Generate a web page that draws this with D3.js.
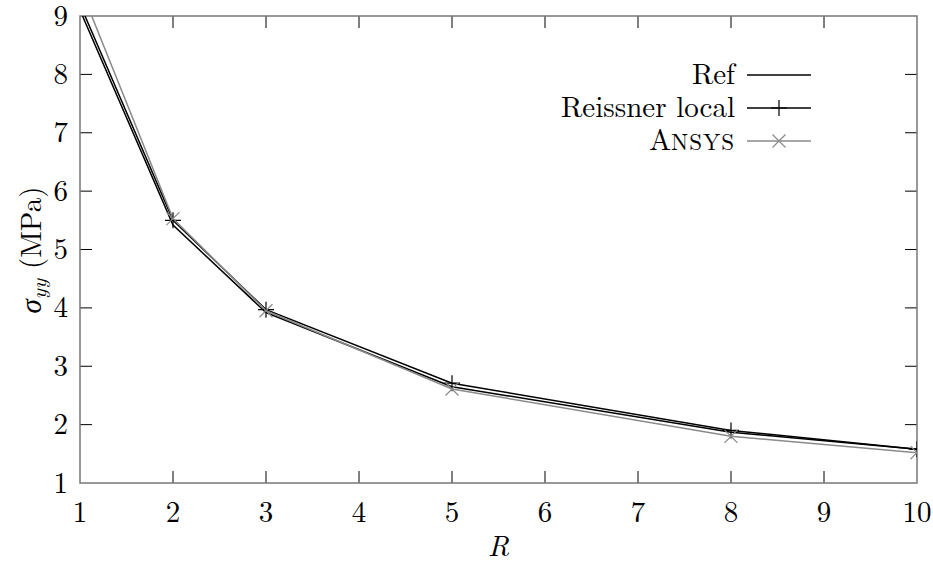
<!DOCTYPE html>
<html><head><meta charset="utf-8">
<script src="https://cdn.jsdelivr.net/npm/d3@7"></script>
<style>body{margin:0;background:#fff}svg{display:block}</style>
</head><body><svg id="c" width="933" height="563"></svg>
<script>
const xVals = [1, 2, 3, 5, 8, 10];
const refVals = [9.1, 5.42, 3.92, 2.65, 1.87, 1.58];
const reissnerVals = [9.2, 5.5, 3.97, 2.71, 1.9, 1.58];
const ansysVals = [9.5, 5.53, 3.95, 2.61, 1.8, 1.52];
const xTicks = [1,2,3,4,5,6,7,8,9,10];
const yTicks = [1,2,3,4,5,6,7,8,9];
const seriesNames = ["Ref", "Reissner local", "Ansys"];

const FONT = "Latin Modern Roman";
const FS = 29;
const svg = d3.select("#c");
const L=80, R=917, T=16, B=483;
const x = d3.scaleLinear().domain([1,10]).range([L,R]);
const y = d3.scaleLinear().domain([1,9]).range([B,T]);
const tl = 12;

svg.append("defs").append("clipPath").attr("id","clip")
  .append("rect").attr("x",L).attr("y",T).attr("width",R-L).attr("height",B-T);

const g = svg.append("g");
xTicks.forEach(t=>{
  if(t>1 && t<10){
    g.append("line").attr("x1",x(t)).attr("x2",x(t)).attr("y1",B).attr("y2",B-tl).attr("stroke","#000");
    g.append("line").attr("x1",x(t)).attr("x2",x(t)).attr("y1",T).attr("y2",T+tl).attr("stroke","#000");
  }
  g.append("text").attr("x",x(t)).attr("y",522).attr("text-anchor","middle").attr("font-size",FS).attr("font-family",FONT).text(t);
});
yTicks.forEach(t=>{
  if(t>1 && t<9){
    g.append("line").attr("x1",L).attr("x2",L+tl).attr("y1",y(t)).attr("y2",y(t)).attr("stroke","#000");
    g.append("line").attr("x1",R).attr("x2",R-tl).attr("y1",y(t)).attr("y2",y(t)).attr("stroke","#000");
  }
  g.append("text").attr("x",68).attr("y",y(t)+9.5).attr("text-anchor","end").attr("font-size",FS).attr("font-family",FONT).text(t);
});

svg.append("rect").attr("x",L).attr("y",T).attr("width",R-L).attr("height",B-T)
  .attr("fill","none").attr("stroke","#777").attr("stroke-width",1.5);

const line = d3.line().x((d,i)=>x(xVals[i])).y(d=>y(d));
const plot = svg.append("g").attr("clip-path","url(#clip)");
const series = [
  {vals: refVals, color:"#000", marker:null},
  {vals: reissnerVals, color:"#000", marker:"plus"},
  {vals: ansysVals, color:"#8a8a8a", marker:"cross"}
];
function drawMarker(sel, type, cx, cy, color){
  if(type==="plus"){
    const s=8;
    sel.append("path").attr("d",`M${cx-s},${cy}H${cx+s}M${cx},${cy-s}V${cy+s}`).attr("stroke",color).attr("stroke-width",1.2).attr("fill","none");
  } else if(type==="cross"){
    const s=6.5;
    sel.append("path").attr("d",`M${cx-s},${cy-s}L${cx+s},${cy+s}M${cx-s},${cy+s}L${cx+s},${cy-s}`).attr("stroke",color).attr("stroke-width",1.2).attr("fill","none");
  }
}
series.forEach(s=>{
  plot.append("path").attr("d",line(s.vals)).attr("fill","none").attr("stroke",s.color).attr("stroke-width",1.5);
});
series.forEach(s=>{
  if(s.marker){
    s.vals.forEach((v,i)=>{
      if(v<=9) drawMarker(plot, s.marker, x(xVals[i]), y(v), s.color);
    });
  }
});

const legY = [75, 108, 141];
series.forEach((s,i)=>{
  const t = svg.append("text").attr("x",735).attr("y",legY[i]+9).attr("text-anchor","end").attr("font-size",FS).attr("font-family",FONT);
  if(i===2){
    t.append("tspan").text(seriesNames[i].slice(0,1));
    t.append("tspan").attr("font-size",23).attr("letter-spacing",1).text(seriesNames[i].slice(1).toUpperCase());
  } else {
    t.text(seriesNames[i]);
  }
  svg.append("line").attr("x1",747).attr("x2",811).attr("y1",legY[i]).attr("y2",legY[i]).attr("stroke",s.color).attr("stroke-width",1.5);
  if(s.marker) drawMarker(svg, s.marker, 779, legY[i], s.color);
});

svg.append("text").attr("x",(L+R)/2).attr("y",556).attr("text-anchor","middle").attr("font-size",FS).attr("font-style","italic").attr("font-family",FONT).text("R");
const yl = svg.append("text").attr("transform","translate(41,250) rotate(-90)").attr("text-anchor","middle").attr("font-size",FS).attr("font-family",FONT);
yl.append("tspan").attr("font-style","italic").text("σ");
yl.append("tspan").attr("font-style","italic").attr("font-size",21).attr("dy",5).text("yy");
yl.append("tspan").attr("dy",-5).text(" (MPa)");
</script></body></html>
